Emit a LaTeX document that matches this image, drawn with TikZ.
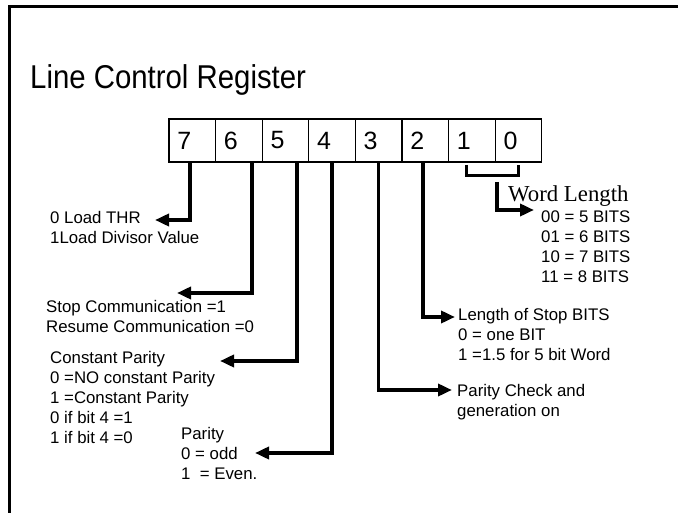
\documentclass[tikz,border=0pt]{standalone}
\usepackage{fontspec}
\setmainfont{Liberation Sans}
\newfontfamily\wordfont{Liberation Serif}
\usetikzlibrary{positioning,arrows.meta,calc}
\tikzset{
  bitcell/.style={rectangle, draw, line width=1.3pt, outer sep=0pt,
                  minimum width=46.6pt, minimum height=43pt, inner sep=0pt,
                  text width=30pt, align=left, font=\fontsize{25}{28}\selectfont},
  conn/.style={-{Triangle[length=14pt,width=12pt]}, line width=3.5pt},
  brace/.style={line width=3pt},
  desc/.style={anchor=north west, inner sep=0pt, align=left,
               font=\fontsize{16.8}{20}\selectfont},
}

\begin{document}
\begin{tikzpicture}[x=1pt, y=-1pt]
  \useasboundingbox (0,0) rectangle (678,513);
  \draw[line width=3pt] (678,7) -- (9,7) -- (9,513);

  \node[anchor=base west, inner sep=0pt, font=\fontsize{33}{38}\selectfont] (title) at (30,89) {\scalebox{0.89}[1]{Line Control Register}};

  % register
  \node[bitcell] (c7) at (192.3,140.5) {7};
  \node[bitcell, right=0pt of c7] (c6) {6};
  \node[bitcell, right=0pt of c6] (c5) {5};
  \node[bitcell, right=0pt of c5] (c4) {4};
  \node[bitcell, right=0pt of c4] (c3) {3};
  \node[bitcell, right=0pt of c3] (c2) {2};
  \node[bitcell, right=0pt of c2] (c1) {1};
  \node[bitcell, right=0pt of c1] (c0) {0};

  % descriptions
  \node[desc] (thr) at (50,211.3) {0 Load THR\\1Load Divisor Value};
  \node[desc] (stop) at (46,300.3) {Stop Communication =1\\Resume Communication =0};
  \node[desc] (const) at (50,351.3) {Constant Parity\\0 =NO constant Parity\\1 =Constant Parity\\0 if bit 4 =1\\1 if bit 4 =0};
  \node[desc] (par) at (181,427.3) {Parity\\0 = odd\\1 \ = Even.};
  \node[desc] (check) at (457,384.3) {Parity Check and\\generation on};
  \node[desc] (stopbits) at (458,308.3) {Length of Stop BITS\\0 = one BIT\\1 =1.5 for 5 bit Word};
  \node[anchor=base west, inner sep=0pt, font=\wordfont\fontsize{22.8}{26}\selectfont] (wlen) at (508,202) {Word Length};
  \node[desc] (bits) at (541,211) {00 = 5 BITS\\01 = 6 BITS\\10 = 7 BITS\\11 = 8 BITS};

  % arrow ends
  \coordinate (e7) at (155,220);
  \coordinate (e6) at (177,293);
  \coordinate (e5) at (220,361);
  \coordinate (e4) at (255,453);
  \coordinate (e3) at (452,390);
  \coordinate (e2) at (455,317);
  \coordinate (wl) at (497,182);
  \coordinate (wlend) at (534,210);

  \draw[conn] ([xshift=-2.3pt]c7.south) |- (e7);
  \draw[conn] ([xshift=13pt]c6.south) |- (e6);
  \draw[conn] ([xshift=11.5pt]c5.south) |- (e5);
  \draw[conn] (c4.south) |- (e4);
  \draw[conn] (c3.south) |- (e3);
  \draw[conn] ([xshift=-2.5pt]c2.south) |- (e2);
  \draw[brace] ([xshift=-5pt,yshift=-3pt]c1.south) -- ++(0,11) -| ([yshift=-3pt]c0.south);
  \draw[conn] (wl) |- (wlend);
\end{tikzpicture}
\end{document}
